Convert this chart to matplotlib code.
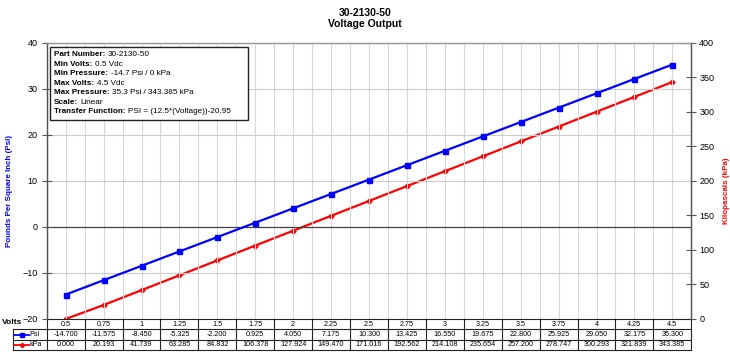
import matplotlib
matplotlib.use("Agg")
import matplotlib.pyplot as plt
from matplotlib.patches import Rectangle

plt.rcParams['font.family'] = ['Liberation Sans', 'DejaVu Sans']

# chart data
volts = ["0.5", "0.75", "1", "1.25", "1.5", "1.75", "2", "2.25", "2.5",
         "2.75", "3", "3.25", "3.5", "3.75", "4", "4.25", "4.5"]
psi = [-14.700, -11.575, -8.450, -5.325, -2.200, 0.925, 4.050, 7.175, 10.300,
       13.425, 16.550, 19.675, 22.800, 25.925, 29.050, 32.175, 35.300]
kpa = [0.000, 20.193, 41.739, 63.285, 84.832, 106.378, 127.924, 149.470, 171.016,
       192.562, 214.108, 235.654, 257.200, 278.747, 300.293, 321.839, 343.385]

info_labels = ["Part Number:", "Min Volts:", "Min Pressure:", "Max Volts:",
               "Max Pressure:", "Scale:", "Transfer Function:"]
info_values = ["30-2130-50", "0.5 Vdc", "-14.7 Psi / 0 kPa", "4.5 Vdc",
               "35.3 Psi / 343.385 kPa", "Linear", "PSI = (12.5*(Voltage))-20.95"]

BLUE = "#0000ff"
RED = "#ff0000"

fig = plt.figure(figsize=(7.3, 3.58), dpi=100)
ax = fig.add_axes([0.064, 0.109, 0.883, 0.771])
ax2 = ax.twinx()

x = list(range(len(volts)))
ax.set_xlim(-0.5, len(volts) - 0.5)
ax.set_ylim(-20, 40)
ax2.set_ylim(0, 400)
ax.set_yticks(range(-20, 41, 10))
ax2.set_yticks(range(0, 401, 50))

# grid
for gx in [i * 0.5 - 0.5 for i in range(2 * len(volts) + 1)]:
    ax.axvline(gx, color="#d8d8d8", lw=0.8, zorder=0)
for gy in [-10, 10, 20, 30]:
    ax.axhline(gy, color="#cccccc", lw=0.8, zorder=0)
ax.axhline(0, color="#404040", lw=0.9, zorder=1)

ax2.plot(x, kpa, color=RED, lw=1.6, marker="D", ms=2.6, zorder=3)
ax.plot(x, psi, color=BLUE, lw=1.6, marker="s", ms=3.6, zorder=4)
ax.set_zorder(ax2.get_zorder() + 1)
ax.patch.set_visible(False)

for a in (ax, ax2):
    a.set_xticks([])
    a.tick_params(axis="y", direction="inout", length=7, width=0.8,
                  color="#555555", labelsize=6.5)
    for s in a.spines.values():
        s.set_color("#555555")
        s.set_linewidth(0.9)
    a.spines["top"].set_color("#999999")
    a.spines["bottom"].set_visible(False)
ax.tick_params(axis="y", pad=3.2)
ax2.tick_params(axis="y", pad=2.2)

ax.set_ylabel("Pounds Per Square Inch (Psi)", color=BLUE, fontsize=5.8,
              fontweight="bold")
ax.yaxis.set_label_coords(-0.052, 0.464)
ax2.set_ylabel("Kilopascals (kPa)", color=RED, fontsize=5.8,
               fontweight="bold")
ax2.yaxis.set_label_coords(1.049, 0.464)

fig.suptitle("30-2130-50\nVoltage Output", fontsize=7.5, fontweight="bold",
             y=0.978, linespacing=1.2)

# info box
ax.add_patch(Rectangle((0.005, 0.722), 0.307, 0.264, transform=ax.transAxes,
                       facecolor="white", edgecolor="#222222", lw=1.0, zorder=6))
ly = 0.958
for lab, val in zip(info_labels, info_values):
    t = ax.text(0.011, ly, lab, transform=ax.transAxes, fontsize=5.9,
                fontweight="bold", va="center", zorder=7)
    ax.annotate(val, xy=(1, 0), xycoords=t, xytext=(2, 0),
                textcoords="offset points", fontsize=5.9, va="bottom", zorder=7)
    ly -= 0.0345

# data table under the axes
tr = ax.get_xaxis_transform()
rh = 0.0375
n = len(volts)
line_kw = dict(color="#222222", lw=0.8, clip_on=False)
for k in range(4):
    ax.plot([-0.5, n - 0.5], [-k * rh, -k * rh], transform=tr, **line_kw)
for k in range(1, 4):
    ax.plot([-0.052, 0], [-k * rh, -k * rh], transform=ax.transAxes, **line_kw)
ax.plot([-0.052, -0.052], [-rh, -3 * rh], transform=ax.transAxes, **line_kw)
for i in range(n + 1):
    ax.plot([i - 0.5, i - 0.5], [0, -3 * rh], transform=tr, **line_kw)
for i in range(n):
    ax.text(i, -0.5 * rh, volts[i], transform=tr, ha="center", va="center",
            fontsize=5.2)
    ax.text(i, -1.5 * rh, f"{psi[i]:.3f}", transform=tr, ha="center",
            va="center", fontsize=5.2)
    ax.text(i, -2.5 * rh, f"{kpa[i]:.3f}", transform=tr, ha="center",
            va="center", fontsize=5.2)

ax.text(-0.0695, -0.011, "Volts", transform=ax.transAxes,
        fontsize=6.1, fontweight="bold", ha="left", va="center")
ax.plot([-0.0505, -0.039, -0.0274], [-1.5 * rh] * 3, transform=ax.transAxes,
        color=BLUE, lw=1.3, marker="s", ms=2.6, markevery=[1], clip_on=False)
ax.plot([-0.0505, -0.039, -0.0274], [-2.5 * rh] * 3, transform=ax.transAxes,
        color=RED, lw=1.3, marker="D", ms=2.2, markevery=[1], clip_on=False)
ax.text(-0.027, -1.5 * rh, "Psi", transform=ax.transAxes, fontsize=5.2,
        va="center")
ax.text(-0.027, -2.5 * rh, "kPa", transform=ax.transAxes, fontsize=5.2,
        va="center")

fig.savefig("out.png", dpi=100)
